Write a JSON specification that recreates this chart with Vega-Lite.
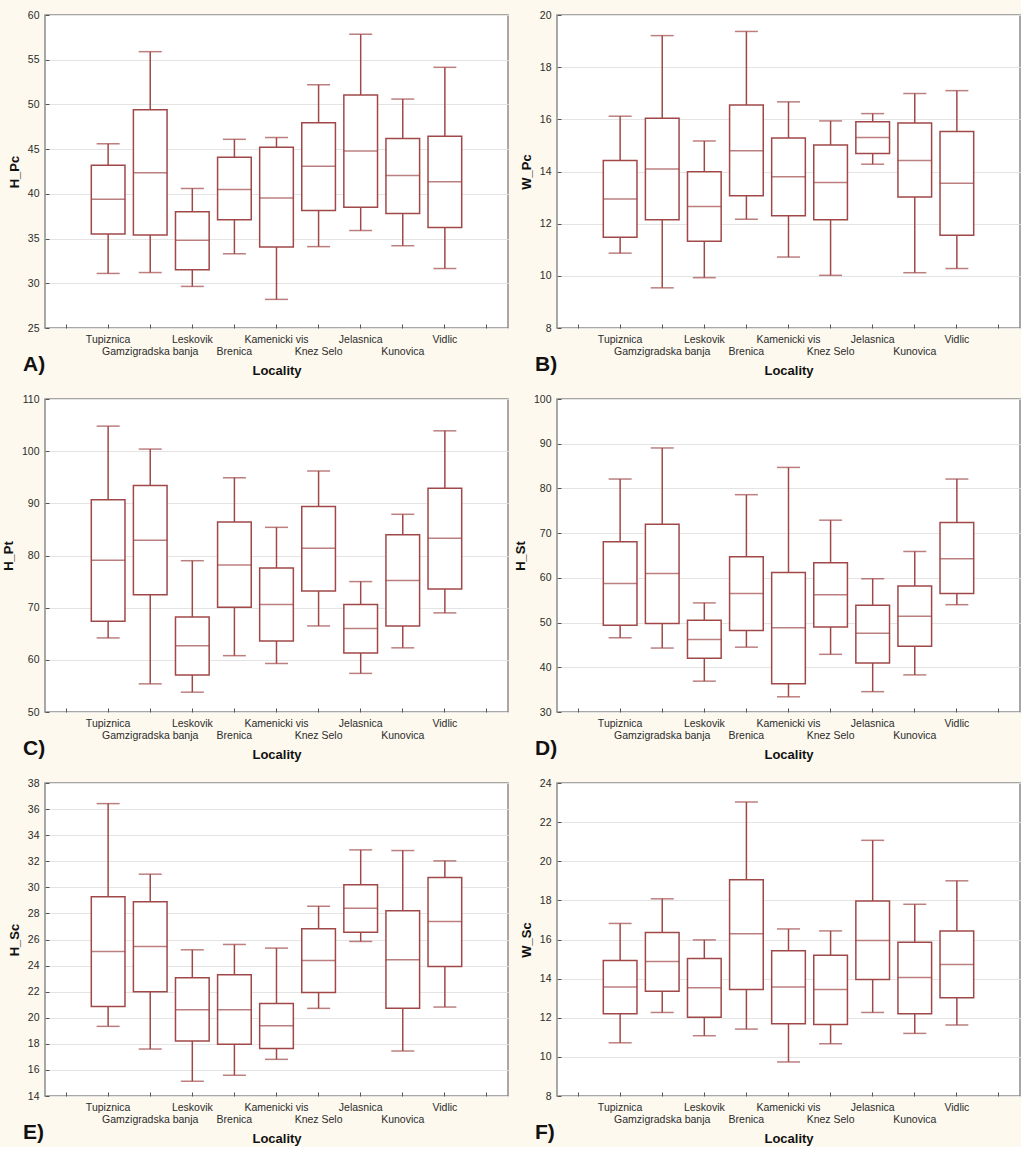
{
  "$schema": "https://vega.github.io/schema/vega-lite/v6.json",
  "background": "#FDF9EE",
  "padding": {"left": 1, "top": 9, "right": 0, "bottom": 0},
  "columns": 2,
  "bounds": "flush",
  "spacing": {"row": 71, "column": 49},
  "data": {"values": [
    {"panel":"A","loc":"Tupiznica","min":31.1,"q1":35.5,"med":39.4,"q3":43.2,"max":45.6},
    {"panel":"A","loc":"Gamzigradska banja","min":31.2,"q1":35.4,"med":42.35,"q3":49.4,"max":55.9},
    {"panel":"A","loc":"Leskovik","min":29.65,"q1":31.5,"med":34.8,"q3":38.0,"max":40.6},
    {"panel":"A","loc":"Brenica","min":33.3,"q1":37.1,"med":40.5,"q3":44.1,"max":46.1},
    {"panel":"A","loc":"Kamenicki vis","min":28.2,"q1":34.05,"med":39.55,"q3":45.2,"max":46.3},
    {"panel":"A","loc":"Knez Selo","min":34.1,"q1":38.15,"med":43.1,"q3":47.95,"max":52.2},
    {"panel":"A","loc":"Jelasnica","min":35.9,"q1":38.5,"med":44.8,"q3":51.05,"max":57.85},
    {"panel":"A","loc":"Kunovica","min":34.2,"q1":37.8,"med":42.05,"q3":46.2,"max":50.6},
    {"panel":"A","loc":"Vidlic","min":31.65,"q1":36.25,"med":41.35,"q3":46.45,"max":54.15},
    {"panel":"B","loc":"Tupiznica","min":10.87,"q1":11.48,"med":12.95,"q3":14.42,"max":16.12},
    {"panel":"B","loc":"Gamzigradska banja","min":9.54,"q1":12.15,"med":14.1,"q3":16.04,"max":19.21},
    {"panel":"B","loc":"Leskovik","min":9.93,"q1":11.33,"med":12.66,"q3":13.99,"max":15.17},
    {"panel":"B","loc":"Brenica","min":12.17,"q1":13.07,"med":14.8,"q3":16.55,"max":19.37},
    {"panel":"B","loc":"Kamenicki vis","min":10.72,"q1":12.3,"med":13.8,"q3":15.28,"max":16.67},
    {"panel":"B","loc":"Knez Selo","min":10.02,"q1":12.15,"med":13.58,"q3":15.02,"max":15.94},
    {"panel":"B","loc":"Jelasnica","min":14.28,"q1":14.69,"med":15.3,"q3":15.91,"max":16.22},
    {"panel":"B","loc":"Kunovica","min":10.12,"q1":13.02,"med":14.42,"q3":15.86,"max":16.99},
    {"panel":"B","loc":"Vidlic","min":10.28,"q1":11.56,"med":13.55,"q3":15.53,"max":17.1},
    {"panel":"C","loc":"Tupiznica","min":64.2,"q1":67.4,"med":79.1,"q3":90.7,"max":104.8},
    {"panel":"C","loc":"Gamzigradska banja","min":55.4,"q1":72.5,"med":82.9,"q3":93.4,"max":100.4},
    {"panel":"C","loc":"Leskovik","min":53.8,"q1":57.1,"med":62.7,"q3":68.2,"max":79.0},
    {"panel":"C","loc":"Brenica","min":60.8,"q1":70.1,"med":78.2,"q3":86.4,"max":94.9},
    {"panel":"C","loc":"Kamenicki vis","min":59.3,"q1":63.6,"med":70.6,"q3":77.6,"max":85.4},
    {"panel":"C","loc":"Knez Selo","min":66.5,"q1":73.2,"med":81.4,"q3":89.4,"max":96.2},
    {"panel":"C","loc":"Jelasnica","min":57.4,"q1":61.3,"med":66.0,"q3":70.6,"max":75.0},
    {"panel":"C","loc":"Kunovica","min":62.3,"q1":66.5,"med":75.2,"q3":84.0,"max":87.9},
    {"panel":"C","loc":"Vidlic","min":69.0,"q1":73.6,"med":83.3,"q3":92.9,"max":103.9},
    {"panel":"D","loc":"Tupiznica","min":46.6,"q1":49.4,"med":58.75,"q3":68.1,"max":82.1},
    {"panel":"D","loc":"Gamzigradska banja","min":44.3,"q1":49.8,"med":61.0,"q3":72.0,"max":89.05},
    {"panel":"D","loc":"Leskovik","min":36.9,"q1":42.0,"med":46.2,"q3":50.5,"max":54.4},
    {"panel":"D","loc":"Brenica","min":44.5,"q1":48.25,"med":56.5,"q3":64.7,"max":78.6},
    {"panel":"D","loc":"Kamenicki vis","min":33.4,"q1":36.3,"med":48.85,"q3":61.2,"max":84.7},
    {"panel":"D","loc":"Knez Selo","min":42.9,"q1":49.0,"med":56.2,"q3":63.4,"max":72.9},
    {"panel":"D","loc":"Jelasnica","min":34.55,"q1":40.95,"med":47.6,"q3":53.9,"max":59.8},
    {"panel":"D","loc":"Kunovica","min":38.3,"q1":44.7,"med":51.4,"q3":58.2,"max":65.9},
    {"panel":"D","loc":"Vidlic","min":54.0,"q1":56.5,"med":64.3,"q3":72.4,"max":82.1},
    {"panel":"E","loc":"Tupiznica","min":19.34,"q1":20.87,"med":25.08,"q3":29.27,"max":36.42},
    {"panel":"E","loc":"Gamzigradska banja","min":17.6,"q1":21.99,"med":25.47,"q3":28.89,"max":31.01},
    {"panel":"E","loc":"Leskovik","min":15.13,"q1":18.21,"med":20.61,"q3":23.07,"max":25.21},
    {"panel":"E","loc":"Brenica","min":15.59,"q1":17.96,"med":20.61,"q3":23.3,"max":25.62},
    {"panel":"E","loc":"Kamenicki vis","min":16.81,"q1":17.65,"med":19.39,"q3":21.1,"max":25.34},
    {"panel":"E","loc":"Knez Selo","min":20.72,"q1":21.94,"med":24.39,"q3":26.82,"max":28.55},
    {"panel":"E","loc":"Jelasnica","min":25.85,"q1":26.56,"med":28.4,"q3":30.19,"max":32.87},
    {"panel":"E","loc":"Kunovica","min":17.45,"q1":20.72,"med":24.44,"q3":28.2,"max":32.82},
    {"panel":"E","loc":"Vidlic","min":20.82,"q1":23.93,"med":27.38,"q3":30.75,"max":32.03},
    {"panel":"F","loc":"Tupiznica","min":10.72,"q1":12.2,"med":13.57,"q3":14.93,"max":16.82},
    {"panel":"F","loc":"Gamzigradska banja","min":12.27,"q1":13.36,"med":14.88,"q3":16.36,"max":18.08},
    {"panel":"F","loc":"Leskovik","min":11.08,"q1":12.03,"med":13.53,"q3":15.03,"max":15.98},
    {"panel":"F","loc":"Brenica","min":11.42,"q1":13.45,"med":16.29,"q3":19.06,"max":23.03},
    {"panel":"F","loc":"Kamenicki vis","min":9.74,"q1":11.69,"med":13.57,"q3":15.42,"max":16.54},
    {"panel":"F","loc":"Knez Selo","min":10.67,"q1":11.66,"med":13.45,"q3":15.2,"max":16.44},
    {"panel":"F","loc":"Jelasnica","min":12.27,"q1":13.96,"med":15.95,"q3":17.97,"max":21.07},
    {"panel":"F","loc":"Kunovica","min":11.2,"q1":12.2,"med":14.06,"q3":15.86,"max":17.8},
    {"panel":"F","loc":"Vidlic","min":11.63,"q1":13.02,"med":14.72,"q3":16.44,"max":19.0}
  ]},
  "config": {
    "font": "Liberation Sans",
    "view": {"fill": "white", "stroke": "#8c8c8c", "strokeWidth": 1.5},
    "axis": {"labelFont": "Liberation Sans", "labelFontSize": 10.5, "labelColor": "#2b2b2b", "titleFont": "Liberation Sans", "titleFontSize": 13, "titleFontWeight": "bold", "titleColor": "#111111", "domain": false, "ticks": true, "tickSize": -4, "tickColor": "#555555", "tickWidth": 1, "minExtent": 0, "labelOverlap": false},
    "axisY": {"grid": true, "gridColor": "#e4e4e4", "gridWidth": 1, "labelPadding": 10, "titlePadding": 6},
    "axisX": {"grid": false, "labelPadding": 10, "labelAngle": 0, "labelLineHeight": 12, "titlePadding": 8},
    "title": {"font": "Liberation Sans", "fontSize": 21, "fontWeight": "bold", "color": "#111111", "orient": "bottom", "anchor": "start", "frame": "group", "dx": -22, "dy": -28}
  },
  "concat": [
      {"width": 463, "height": 313, "title": "A)",
       "transform": [{"filter": "datum.panel == 'A'"}],
       "encoding": {"x": {"field": "loc", "type": "nominal", "sort": null, "title": "Locality",
         "scale": {"domain": ["_start","Tupiznica","Gamzigradska banja","Leskovik","Brenica","Kamenicki vis","Knez Selo","Jelasnica","Kunovica","Vidlic","_end"], "paddingInner": 0, "paddingOuter": 0},
         "axis": {"labelExpr": "datum.value == '_start' || datum.value == '_end' ? '' : (indexof(['Gamzigradska banja','Brenica','Knez Selo','Kunovica'], datum.value) >= 0 ? ['', datum.value] : datum.value)"}}},
       "layer": [
         {"mark": {"type": "rule", "color": "#A04848", "strokeWidth": 1.5},
          "encoding": {"y": {"field": "min", "type": "quantitative", "title": "H_Pc", "scale": {"domain": [25, 60], "nice": false, "zero": false}, "axis": {"values": [25,30,35,40,45,50,55,60]}}, "y2": {"field": "max"}}},
         {"mark": {"type": "bar", "fill": "white", "stroke": "#A04848", "strokeWidth": 1.5, "width": {"band": 0.8}},
          "encoding": {"y": {"field": "q1", "type": "quantitative", "title": "H_Pc", "scale": {"domain": [25, 60], "nice": false, "zero": false}, "axis": {"values": [25,30,35,40,45,50,55,60]}}, "y2": {"field": "q3"}}},
         {"mark": {"type": "tick", "color": "#A04848", "size": 34, "thickness": 1.5},
          "encoding": {"y": {"field": "med", "type": "quantitative", "title": "H_Pc", "scale": {"domain": [25, 60], "nice": false, "zero": false}, "axis": {"values": [25,30,35,40,45,50,55,60]}}}},
         {"mark": {"type": "tick", "color": "#A04848", "size": 23, "thickness": 1.5},
          "encoding": {"y": {"field": "min", "type": "quantitative", "title": "H_Pc", "scale": {"domain": [25, 60], "nice": false, "zero": false}, "axis": {"values": [25,30,35,40,45,50,55,60]}}}},
         {"mark": {"type": "tick", "color": "#A04848", "size": 23, "thickness": 1.5},
          "encoding": {"y": {"field": "max", "type": "quantitative", "title": "H_Pc", "scale": {"domain": [25, 60], "nice": false, "zero": false}, "axis": {"values": [25,30,35,40,45,50,55,60]}}}}
       ]},
      {"width": 463, "height": 313, "title": "B)",
       "transform": [{"filter": "datum.panel == 'B'"}],
       "encoding": {"x": {"field": "loc", "type": "nominal", "sort": null, "title": "Locality",
         "scale": {"domain": ["_start","Tupiznica","Gamzigradska banja","Leskovik","Brenica","Kamenicki vis","Knez Selo","Jelasnica","Kunovica","Vidlic","_end"], "paddingInner": 0, "paddingOuter": 0},
         "axis": {"labelExpr": "datum.value == '_start' || datum.value == '_end' ? '' : (indexof(['Gamzigradska banja','Brenica','Knez Selo','Kunovica'], datum.value) >= 0 ? ['', datum.value] : datum.value)"}}},
       "layer": [
         {"mark": {"type": "rule", "color": "#A04848", "strokeWidth": 1.5},
          "encoding": {"y": {"field": "min", "type": "quantitative", "title": "W_Pc", "scale": {"domain": [8, 20], "nice": false, "zero": false}, "axis": {"values": [8,10,12,14,16,18,20]}}, "y2": {"field": "max"}}},
         {"mark": {"type": "bar", "fill": "white", "stroke": "#A04848", "strokeWidth": 1.5, "width": {"band": 0.8}},
          "encoding": {"y": {"field": "q1", "type": "quantitative", "title": "W_Pc", "scale": {"domain": [8, 20], "nice": false, "zero": false}, "axis": {"values": [8,10,12,14,16,18,20]}}, "y2": {"field": "q3"}}},
         {"mark": {"type": "tick", "color": "#A04848", "size": 34, "thickness": 1.5},
          "encoding": {"y": {"field": "med", "type": "quantitative", "title": "W_Pc", "scale": {"domain": [8, 20], "nice": false, "zero": false}, "axis": {"values": [8,10,12,14,16,18,20]}}}},
         {"mark": {"type": "tick", "color": "#A04848", "size": 23, "thickness": 1.5},
          "encoding": {"y": {"field": "min", "type": "quantitative", "title": "W_Pc", "scale": {"domain": [8, 20], "nice": false, "zero": false}, "axis": {"values": [8,10,12,14,16,18,20]}}}},
         {"mark": {"type": "tick", "color": "#A04848", "size": 23, "thickness": 1.5},
          "encoding": {"y": {"field": "max", "type": "quantitative", "title": "W_Pc", "scale": {"domain": [8, 20], "nice": false, "zero": false}, "axis": {"values": [8,10,12,14,16,18,20]}}}}
       ]},
      {"width": 463, "height": 313, "title": "C)",
       "transform": [{"filter": "datum.panel == 'C'"}],
       "encoding": {"x": {"field": "loc", "type": "nominal", "sort": null, "title": "Locality",
         "scale": {"domain": ["_start","Tupiznica","Gamzigradska banja","Leskovik","Brenica","Kamenicki vis","Knez Selo","Jelasnica","Kunovica","Vidlic","_end"], "paddingInner": 0, "paddingOuter": 0},
         "axis": {"labelExpr": "datum.value == '_start' || datum.value == '_end' ? '' : (indexof(['Gamzigradska banja','Brenica','Knez Selo','Kunovica'], datum.value) >= 0 ? ['', datum.value] : datum.value)"}}},
       "layer": [
         {"mark": {"type": "rule", "color": "#A04848", "strokeWidth": 1.5},
          "encoding": {"y": {"field": "min", "type": "quantitative", "title": "H_Pt", "scale": {"domain": [50, 110], "nice": false, "zero": false}, "axis": {"values": [50,60,70,80,90,100,110]}}, "y2": {"field": "max"}}},
         {"mark": {"type": "bar", "fill": "white", "stroke": "#A04848", "strokeWidth": 1.5, "width": {"band": 0.8}},
          "encoding": {"y": {"field": "q1", "type": "quantitative", "title": "H_Pt", "scale": {"domain": [50, 110], "nice": false, "zero": false}, "axis": {"values": [50,60,70,80,90,100,110]}}, "y2": {"field": "q3"}}},
         {"mark": {"type": "tick", "color": "#A04848", "size": 34, "thickness": 1.5},
          "encoding": {"y": {"field": "med", "type": "quantitative", "title": "H_Pt", "scale": {"domain": [50, 110], "nice": false, "zero": false}, "axis": {"values": [50,60,70,80,90,100,110]}}}},
         {"mark": {"type": "tick", "color": "#A04848", "size": 23, "thickness": 1.5},
          "encoding": {"y": {"field": "min", "type": "quantitative", "title": "H_Pt", "scale": {"domain": [50, 110], "nice": false, "zero": false}, "axis": {"values": [50,60,70,80,90,100,110]}}}},
         {"mark": {"type": "tick", "color": "#A04848", "size": 23, "thickness": 1.5},
          "encoding": {"y": {"field": "max", "type": "quantitative", "title": "H_Pt", "scale": {"domain": [50, 110], "nice": false, "zero": false}, "axis": {"values": [50,60,70,80,90,100,110]}}}}
       ]},
      {"width": 463, "height": 313, "title": "D)",
       "transform": [{"filter": "datum.panel == 'D'"}],
       "encoding": {"x": {"field": "loc", "type": "nominal", "sort": null, "title": "Locality",
         "scale": {"domain": ["_start","Tupiznica","Gamzigradska banja","Leskovik","Brenica","Kamenicki vis","Knez Selo","Jelasnica","Kunovica","Vidlic","_end"], "paddingInner": 0, "paddingOuter": 0},
         "axis": {"labelExpr": "datum.value == '_start' || datum.value == '_end' ? '' : (indexof(['Gamzigradska banja','Brenica','Knez Selo','Kunovica'], datum.value) >= 0 ? ['', datum.value] : datum.value)"}}},
       "layer": [
         {"mark": {"type": "rule", "color": "#A04848", "strokeWidth": 1.5},
          "encoding": {"y": {"field": "min", "type": "quantitative", "title": "H_St", "scale": {"domain": [30, 100], "nice": false, "zero": false}, "axis": {"values": [30,40,50,60,70,80,90,100]}}, "y2": {"field": "max"}}},
         {"mark": {"type": "bar", "fill": "white", "stroke": "#A04848", "strokeWidth": 1.5, "width": {"band": 0.8}},
          "encoding": {"y": {"field": "q1", "type": "quantitative", "title": "H_St", "scale": {"domain": [30, 100], "nice": false, "zero": false}, "axis": {"values": [30,40,50,60,70,80,90,100]}}, "y2": {"field": "q3"}}},
         {"mark": {"type": "tick", "color": "#A04848", "size": 34, "thickness": 1.5},
          "encoding": {"y": {"field": "med", "type": "quantitative", "title": "H_St", "scale": {"domain": [30, 100], "nice": false, "zero": false}, "axis": {"values": [30,40,50,60,70,80,90,100]}}}},
         {"mark": {"type": "tick", "color": "#A04848", "size": 23, "thickness": 1.5},
          "encoding": {"y": {"field": "min", "type": "quantitative", "title": "H_St", "scale": {"domain": [30, 100], "nice": false, "zero": false}, "axis": {"values": [30,40,50,60,70,80,90,100]}}}},
         {"mark": {"type": "tick", "color": "#A04848", "size": 23, "thickness": 1.5},
          "encoding": {"y": {"field": "max", "type": "quantitative", "title": "H_St", "scale": {"domain": [30, 100], "nice": false, "zero": false}, "axis": {"values": [30,40,50,60,70,80,90,100]}}}}
       ]},
      {"width": 463, "height": 313, "title": "E)",
       "transform": [{"filter": "datum.panel == 'E'"}],
       "encoding": {"x": {"field": "loc", "type": "nominal", "sort": null, "title": "Locality",
         "scale": {"domain": ["_start","Tupiznica","Gamzigradska banja","Leskovik","Brenica","Kamenicki vis","Knez Selo","Jelasnica","Kunovica","Vidlic","_end"], "paddingInner": 0, "paddingOuter": 0},
         "axis": {"labelExpr": "datum.value == '_start' || datum.value == '_end' ? '' : (indexof(['Gamzigradska banja','Brenica','Knez Selo','Kunovica'], datum.value) >= 0 ? ['', datum.value] : datum.value)"}}},
       "layer": [
         {"mark": {"type": "rule", "color": "#A04848", "strokeWidth": 1.5},
          "encoding": {"y": {"field": "min", "type": "quantitative", "title": "H_Sc", "scale": {"domain": [14, 38], "nice": false, "zero": false}, "axis": {"values": [14,16,18,20,22,24,26,28,30,32,34,36,38]}}, "y2": {"field": "max"}}},
         {"mark": {"type": "bar", "fill": "white", "stroke": "#A04848", "strokeWidth": 1.5, "width": {"band": 0.8}},
          "encoding": {"y": {"field": "q1", "type": "quantitative", "title": "H_Sc", "scale": {"domain": [14, 38], "nice": false, "zero": false}, "axis": {"values": [14,16,18,20,22,24,26,28,30,32,34,36,38]}}, "y2": {"field": "q3"}}},
         {"mark": {"type": "tick", "color": "#A04848", "size": 34, "thickness": 1.5},
          "encoding": {"y": {"field": "med", "type": "quantitative", "title": "H_Sc", "scale": {"domain": [14, 38], "nice": false, "zero": false}, "axis": {"values": [14,16,18,20,22,24,26,28,30,32,34,36,38]}}}},
         {"mark": {"type": "tick", "color": "#A04848", "size": 23, "thickness": 1.5},
          "encoding": {"y": {"field": "min", "type": "quantitative", "title": "H_Sc", "scale": {"domain": [14, 38], "nice": false, "zero": false}, "axis": {"values": [14,16,18,20,22,24,26,28,30,32,34,36,38]}}}},
         {"mark": {"type": "tick", "color": "#A04848", "size": 23, "thickness": 1.5},
          "encoding": {"y": {"field": "max", "type": "quantitative", "title": "H_Sc", "scale": {"domain": [14, 38], "nice": false, "zero": false}, "axis": {"values": [14,16,18,20,22,24,26,28,30,32,34,36,38]}}}}
       ]},
      {"width": 463, "height": 313, "title": "F)",
       "transform": [{"filter": "datum.panel == 'F'"}],
       "encoding": {"x": {"field": "loc", "type": "nominal", "sort": null, "title": "Locality",
         "scale": {"domain": ["_start","Tupiznica","Gamzigradska banja","Leskovik","Brenica","Kamenicki vis","Knez Selo","Jelasnica","Kunovica","Vidlic","_end"], "paddingInner": 0, "paddingOuter": 0},
         "axis": {"labelExpr": "datum.value == '_start' || datum.value == '_end' ? '' : (indexof(['Gamzigradska banja','Brenica','Knez Selo','Kunovica'], datum.value) >= 0 ? ['', datum.value] : datum.value)"}}},
       "layer": [
         {"mark": {"type": "rule", "color": "#A04848", "strokeWidth": 1.5},
          "encoding": {"y": {"field": "min", "type": "quantitative", "title": "W_Sc", "scale": {"domain": [8, 24], "nice": false, "zero": false}, "axis": {"values": [8,10,12,14,16,18,20,22,24]}}, "y2": {"field": "max"}}},
         {"mark": {"type": "bar", "fill": "white", "stroke": "#A04848", "strokeWidth": 1.5, "width": {"band": 0.8}},
          "encoding": {"y": {"field": "q1", "type": "quantitative", "title": "W_Sc", "scale": {"domain": [8, 24], "nice": false, "zero": false}, "axis": {"values": [8,10,12,14,16,18,20,22,24]}}, "y2": {"field": "q3"}}},
         {"mark": {"type": "tick", "color": "#A04848", "size": 34, "thickness": 1.5},
          "encoding": {"y": {"field": "med", "type": "quantitative", "title": "W_Sc", "scale": {"domain": [8, 24], "nice": false, "zero": false}, "axis": {"values": [8,10,12,14,16,18,20,22,24]}}}},
         {"mark": {"type": "tick", "color": "#A04848", "size": 23, "thickness": 1.5},
          "encoding": {"y": {"field": "min", "type": "quantitative", "title": "W_Sc", "scale": {"domain": [8, 24], "nice": false, "zero": false}, "axis": {"values": [8,10,12,14,16,18,20,22,24]}}}},
         {"mark": {"type": "tick", "color": "#A04848", "size": 23, "thickness": 1.5},
          "encoding": {"y": {"field": "max", "type": "quantitative", "title": "W_Sc", "scale": {"domain": [8, 24], "nice": false, "zero": false}, "axis": {"values": [8,10,12,14,16,18,20,22,24]}}}}
       ]}
  ]
}
